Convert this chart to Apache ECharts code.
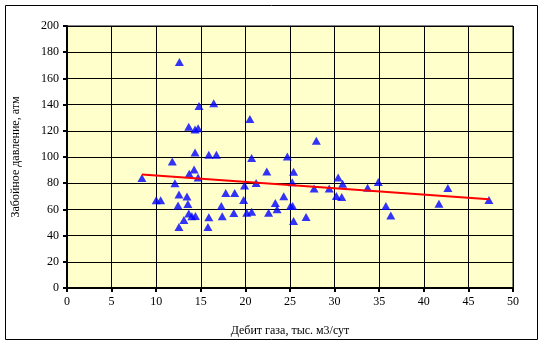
<!DOCTYPE html>
<html>
<head>
    <meta charset="UTF-8">
    <title>Дебит газа</title>
    <script src="https://cdn.jsdelivr.net/npm/echarts@6/dist/echarts.min.js"></script>
    <style>html,body{margin:0;padding:0;background:#fff;} #chart{width:544px;height:351px;}</style>
</head>
<body>
<div id="chart"></div>
<script>
    // дебит газа, тыс. м3/сут
    var gasRate = [8.4, 10.0, 10.5, 11.8, 12.1, 12.6, 12.55, 12.45, 12.55, 13.1,
        13.45, 13.55, 13.65, 13.65, 13.7, 14.0, 14.25, 14.35, 14.35, 14.4,
        14.7, 14.7, 14.8, 15.9, 15.9, 15.8, 16.45, 16.75, 17.3, 17.4,
        17.8, 18.7, 18.8, 19.8, 19.9, 20.15, 20.5, 20.7, 20.7, 21.2,
        22.4, 22.6, 23.35, 23.55, 24.3, 24.7, 25.05, 25.3, 25.25, 25.4,
        25.4, 26.8, 27.7, 27.95, 29.4, 30.2, 30.4, 30.8, 30.9, 33.7,
        34.9, 35.75, 36.3, 41.7, 42.7, 47.3];
    // забойное давление, атм
    var pressure = [84, 67, 67, 96.5, 80, 172.5, 71.3, 62.9, 46.6, 52,
        69.8, 64.2, 56.8, 123, 87.3, 54.7, 90.4, 121, 103.4, 55,
        122, 84.3, 139, 101.8, 54, 46.6, 141, 101.8, 62.6, 54.7,
        72.5, 57.2, 72.5, 67.2, 78.3, 57.4, 129, 58.2, 99.3, 80.2,
        89, 57.4, 64.9, 60.2, 70, 100.3, 62.6, 62.6, 80.8, 88.7,
        51.2, 54.2, 75.9, 112.4, 76, 70.2, 84.3, 69.5, 79.5, 76.6,
        80.9, 62.6, 55.3, 64.4, 76.3, 67.2];
    // линия тренда (концы)
    var trendX = [8.4, 47.3];
    var trendY = [86.6, 67.8];

    var xTicks = ['0', '5', '10', '15', '20', '25', '30', '35', '40', '45', '50'];

    var points = [];
    for (var i = 0; i < gasRate.length; i++) {
        points.push([gasRate[i], pressure[i]]);
    }
    var trend = [];
    for (var j = 0; j < trendX.length; j++) {
        trend.push([trendX[j], trendY[j]]);
    }

    var font = '"Liberation Serif", "DejaVu Serif", serif';
    var myChart = echarts.init(document.getElementById('chart'));
    var option = {
        backgroundColor: '#fff',
        animation: false,
        graphic: [{
            type: 'rect',
            shape: {x: 5.5, y: 5.5, width: 532, height: 334},
            style: {fill: 'none', stroke: '#000', lineWidth: 1},
            z: -1
        }],
        grid: {
            left: 67, top: 26, right: 31, bottom: 63,
            show: true,
            backgroundColor: '#FFFFCC',
            borderColor: '#000',
            borderWidth: 1
        },
        xAxis: {
            type: 'value',
            min: 0, max: 50, interval: 5,
            name: 'Дебит газа, тыс. м3/сут',
            nameLocation: 'middle',
            nameGap: 37,
            nameTextStyle: {fontFamily: font, fontSize: 12, color: '#000'},
            axisLine: {show: true, onZero: false, lineStyle: {color: '#000', width: 2}},
            axisTick: {show: true, length: 4, lineStyle: {color: '#000', width: 2}},
            axisLabel: {
                margin: 8, fontFamily: font, fontSize: 12, color: '#000',
                formatter: function (v) { return xTicks[Math.round(v / 5)]; }
            },
            splitLine: {show: true, lineStyle: {color: '#000', width: 1}}
        },
        yAxis: {
            type: 'value',
            min: 0, max: 200, interval: 20,
            name: 'Забойное давление, атм',
            nameLocation: 'middle',
            nameGap: 45,
            nameTextStyle: {fontFamily: font, fontSize: 12, color: '#000'},
            axisLine: {show: true, onZero: false, lineStyle: {color: '#000', width: 2}},
            axisTick: {show: true, length: 4, lineStyle: {color: '#000', width: 2}},
            axisLabel: {margin: 8, fontFamily: font, fontSize: 12, color: '#000'},
            splitLine: {show: true, lineStyle: {color: '#000', width: 1}}
        },
        series: [{
            type: 'scatter',
            symbol: 'triangle',
            symbolSize: [9, 8],
            itemStyle: {color: '#0000FF'},
            data: points,
            z: 3
        }, {
            type: 'line',
            data: trend,
            symbol: 'none',
            lineStyle: {color: '#FF0000', width: 2},
            z: 4
        }]
    };
    myChart.setOption(option);
</script>
</body>
</html>
